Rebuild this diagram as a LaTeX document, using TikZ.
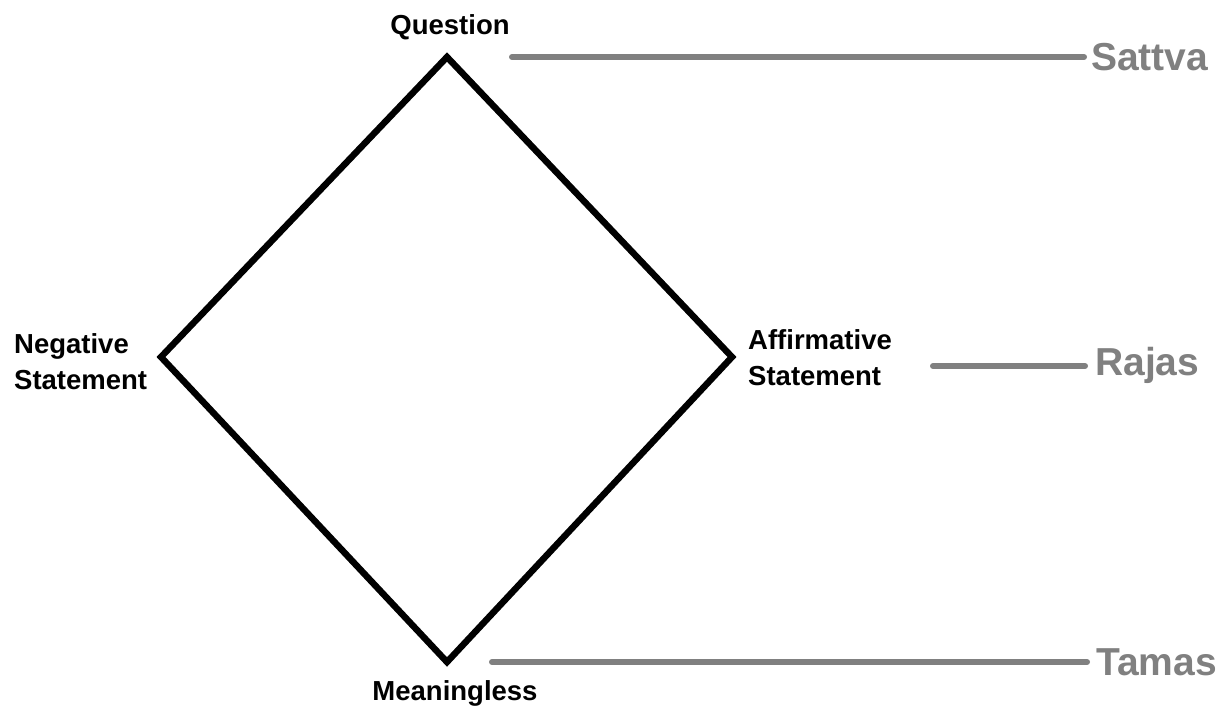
\documentclass[tikz,border=0pt]{standalone}
\usepackage{fontspec}
\setmainfont{Liberation Sans}
\begin{document}
\begin{tikzpicture}[x=1pt,y=-1pt,
  vlabel/.style={font=\bfseries\fontsize{27.5}{36}\selectfont, text=black, inner sep=0pt},
  guna/.style={font=\bfseries\fontsize{39}{42}\selectfont, text=gunagray, inner sep=0pt},
  edge/.style={line width=6.5pt, line join=miter},
  guide/.style={line width=6pt, draw=gunagray, line cap=round}]
\definecolor{gunagray}{HTML}{808080}
\useasboundingbox (0,0) rectangle (1230,705);
% corners of the square
\coordinate (top) at (447,57);
\coordinate (left) at (161,357);
\coordinate (right) at (732,357);
\coordinate (bottom) at (447,662);
\draw[edge] (top) -- (right) -- (bottom) -- (left) -- cycle;
% corner labels
\node[vlabel, anchor=base] (q) at (450,34) {Question};
\node[vlabel, anchor=north west, align=left] (neg) at (14,333) {Negative\\Statement};
\node[vlabel, anchor=north west, align=left] (aff) at (748,329) {Affirmative\\Statement};
\node[vlabel, anchor=base] (m) at (455,700) {Meaningless};
% the three gunas
\node[guna, anchor=west] (sattva) at (1091,57) {Sattva};
\node[guna, anchor=west] (rajas) at (1095,365) {Rajas};
\node[guna, anchor=west] (tamas) at (1096,662) {Tamas};
\coordinate (s0) at (512,57);
\coordinate (r0) at (933,366);
\coordinate (t0) at (492,662);
\draw[guide] (s0) -- ([xshift=-7pt]sattva.west |- s0);
\draw[guide] (r0) -- ([xshift=-10pt]rajas.west |- r0);
\draw[guide] (t0) -- ([xshift=-9pt]tamas.west |- t0);
\end{tikzpicture}
\end{document}
